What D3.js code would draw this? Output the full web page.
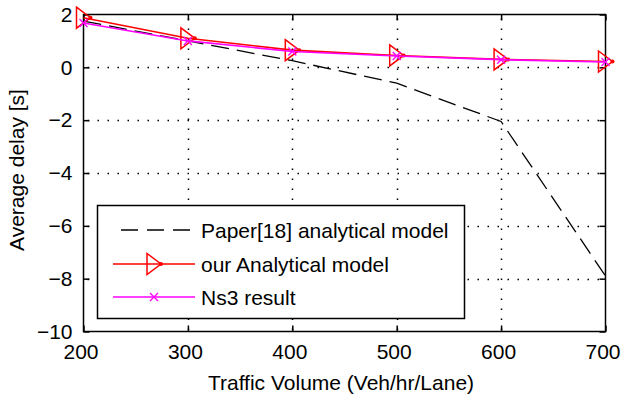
<!DOCTYPE html>
<html>
<head>
<meta charset="utf-8">
<script src="https://cdn.jsdelivr.net/npm/d3@7"></script>
<style>
  html, body { margin: 0; padding: 0; background: #fff; }
  svg { display: block; }
  text { font-family: "Liberation Sans", Arial, sans-serif; fill: #000; }
</style>
</head>
<body>
<svg id="chart" width="622" height="403"></svg>
<script>
// Traffic volume (veh/hr/lane) on the x axis
const volumes = [200, 300, 400, 500, 600, 700];
// Average delay [s] per model
const paperModel = [1.75, 1.0, 0.25, -0.6, -2.05, -7.9];
const ourModel   = [1.88, 1.1, 0.65, 0.45, 0.3, 0.22];
const ns3Result  = [1.68, 1.0, 0.6, 0.43, 0.29, 0.2];

const xTicks = [200, 300, 400, 500, 600, 700];
const yTicks = [2, 0, -2, -4, -6, -8, -10];

const seriesNames = ["Paper[18] analytical model", "our Analytical model", "Ns3 result"];

const svg = d3.select("#chart");
const plotL = 83.5, plotR = 605.5, plotT = 14.5, plotB = 331.5;

const x = d3.scaleLinear().domain([200, 700]).range([plotL, plotR]);
const y = d3.scaleLinear().domain([-10, 2]).range([plotB, plotT]);

const fontSize = 21;
const dash = "18,8";
const dots = "1.5,8.5";

// dotted grid
const grid = svg.append("g");
xTicks.slice(1, -1).forEach(t => {
  grid.append("line")
    .attr("x1", Math.round(x(t)) + 0.5).attr("x2", Math.round(x(t)) + 0.5)
    .attr("y1", plotT + 4).attr("y2", plotB)
    .attr("stroke", "#000").attr("stroke-width", 1.5)
    .attr("stroke-dasharray", dots);
});
yTicks.slice(1, -1).forEach(t => {
  grid.append("line")
    .attr("x1", plotL + 4).attr("x2", plotR)
    .attr("y1", Math.round(y(t)) + 0.5).attr("y2", Math.round(y(t)) + 0.5)
    .attr("stroke", "#000").attr("stroke-width", 1.5)
    .attr("stroke-dasharray", dots);
});

// axes with inward ticks
const xAxisB = d3.axisBottom(x).tickValues(xTicks).tickSize(-6).tickPadding(13);
const xAxisT = d3.axisTop(x).tickValues(xTicks).tickSize(-6).tickFormat("");
const yAxisL = d3.axisLeft(y).tickValues(yTicks).tickSize(-6).tickPadding(11);
const yAxisR = d3.axisRight(y).tickValues(yTicks).tickSize(-6).tickFormat("");

function styleAxis(g) {
  g.select(".domain").remove();
  g.selectAll(".tick line").attr("stroke", "#000").attr("stroke-width", 1.5);
  g.selectAll("text").attr("font-size", fontSize).style("font-family", "'Liberation Sans', Arial, sans-serif");
}
svg.append("g").attr("transform", `translate(0,${plotB})`).call(xAxisB).call(styleAxis)
  .selectAll(".tick text").attr("dx", -3);
svg.append("g").attr("transform", `translate(0,${plotT})`).call(xAxisT).call(styleAxis);
svg.append("g").attr("transform", `translate(${plotL},0)`).call(yAxisL).call(styleAxis);
svg.append("g").attr("transform", `translate(${plotR},0)`).call(yAxisR).call(styleAxis);

// frame
svg.append("rect")
  .attr("x", plotL).attr("y", plotT)
  .attr("width", plotR - plotL).attr("height", plotB - plotT)
  .attr("fill", "none").attr("stroke", "#000").attr("stroke-width", 1.5);

const line = d3.line().x((d, i) => x(volumes[i])).y(d => y(d));

// Paper[18] model, dashed black
svg.append("path").datum(paperModel)
  .attr("d", line).attr("fill", "none")
  .attr("stroke", "#000").attr("stroke-width", 1.3)
  .attr("stroke-dasharray", dash);

// our analytical model, red with right-pointing triangles
svg.append("path").datum(ourModel)
  .attr("d", line).attr("fill", "none")
  .attr("stroke", "#ff0000").attr("stroke-width", 1.6);

function triangle(g, cx, cy) {
  const w = 7, h = 10.5;
  g.append("path")
    .attr("d", `M${cx - w},${cy - h}L${cx + w},${cy}L${cx - w},${cy + h}Z`)
    .attr("fill", "none").attr("stroke", "#ff0000").attr("stroke-width", 1.5);
  g.append("circle").attr("cx", cx + w).attr("cy", cy).attr("r", 2)
    .attr("fill", "#ff0000");
}
const triG = svg.append("g");
ourModel.forEach((v, i) => triangle(triG, x(volumes[i]), y(v)));

// Ns3 result, magenta with x markers
svg.append("path").datum(ns3Result)
  .attr("d", line).attr("fill", "none")
  .attr("stroke", "#ff00ff").attr("stroke-width", 1.6);

function cross(g, cx, cy) {
  const s = 4;
  g.append("path")
    .attr("d", `M${cx - s},${cy - s}L${cx + s},${cy + s}M${cx - s},${cy + s}L${cx + s},${cy - s}`)
    .attr("stroke", "#ff00ff").attr("stroke-width", 1.3);
}
const crossG = svg.append("g");
ns3Result.forEach((v, i) => cross(crossG, x(volumes[i]), y(v)));

// legend
const lg = svg.append("g");
lg.append("rect")
  .attr("x", 97.5).attr("y", 205.5).attr("width", 367).attr("height", 113)
  .attr("fill", "#fff").attr("stroke", "#000").attr("stroke-width", 1.5);

const rowsY = [230, 264, 297];
const sx1 = 113, sx2 = 195;
lg.append("line").attr("x1", 121).attr("x2", sx2).attr("y1", rowsY[0]).attr("y2", rowsY[0])
  .attr("stroke", "#000").attr("stroke-width", 1.3).attr("stroke-dasharray", "17,9");
lg.append("line").attr("x1", sx1).attr("x2", sx2).attr("y1", rowsY[1]).attr("y2", rowsY[1])
  .attr("stroke", "#ff0000").attr("stroke-width", 1.6);
triangle(lg, (sx1 + sx2) / 2, rowsY[1]);
lg.append("line").attr("x1", sx1).attr("x2", sx2).attr("y1", rowsY[2]).attr("y2", rowsY[2])
  .attr("stroke", "#ff00ff").attr("stroke-width", 1.6);
cross(lg, (sx1 + sx2) / 2, rowsY[2]);

seriesNames.forEach((name, i) => {
  lg.append("text").attr("x", 201).attr("y", rowsY[i]).attr("dy", "0.36em")
    .attr("font-size", fontSize).text(name);
});

// axis titles
svg.append("text")
  .attr("x", 341).attr("y", 390)
  .attr("text-anchor", "middle").attr("font-size", fontSize)
  .text("Traffic Volume (Veh/hr/Lane)");
svg.append("text")
  .attr("transform", `translate(24,${(plotT + plotB) / 2 - 3}) rotate(-90)`)
  .attr("text-anchor", "middle").attr("font-size", fontSize)
  .text("Average delay [s]");
</script>
</body>
</html>
